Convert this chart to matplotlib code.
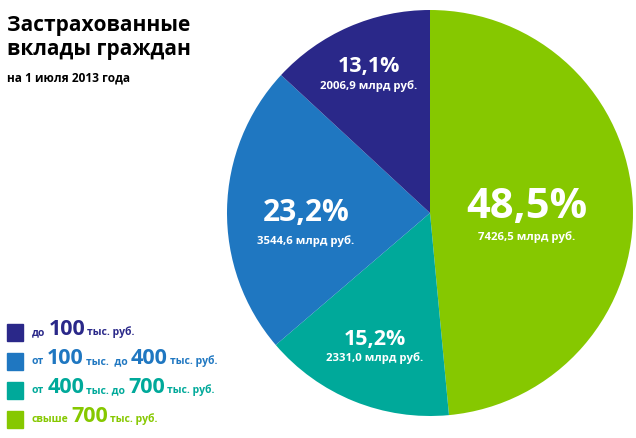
import matplotlib
matplotlib.use("Agg")
import matplotlib.pyplot as plt
from matplotlib.patches import Rectangle

plt.rcParams['font.family'] = ['Open Sans', 'DejaVu Sans']

# ---- data ----
categories = ["свыше 700 тыс. руб.", "от 400 тыс. до 700 тыс. руб.",
              "от 100 тыс. до 400 тыс. руб.", "до 100 тыс. руб."]
values = [7426.5, 2331.0, 3544.6, 2006.9]          # млрд руб.
pct_labels = ["48,5%", "15,2%", "23,2%", "13,1%"]
sum_labels = ["7426,5 млрд руб.", "2331,0 млрд руб.", "3544,6 млрд руб.", "2006,9 млрд руб."]
colors = ["#86c800", "#00a99a", "#1f77c1", "#2a2889"]

title_lines = ["Застрахованные", "вклады граждан"]
subtitle = "на 1 июля 2013 года"

# legend rows (top -> bottom): list of (text, big?) pieces
legend_rows = [
    ([("до", False), ("100", True), ("тыс. руб.", False)], colors[3]),
    ([("от", False), ("100", True), ("тыс.  до", False), ("400", True), ("тыс. руб.", False)], colors[2]),
    ([("от", False), ("400", True), ("тыс. до", False), ("700", True), ("тыс. руб.", False)], colors[1]),
    ([("свыше", False), ("700", True), ("тыс. руб.", False)], colors[0]),
]

W, H = 636, 438
fig = plt.figure(figsize=(W / 100, H / 100), dpi=100)
renderer = fig.canvas.get_renderer()

# ---- pie ----
cx, cy, r = 430, 213, 203
ax = fig.add_axes([(cx - r) / W, (H - cy - r) / H, 2 * r / W, 2 * r / H])
ax.pie(values, colors=colors, startangle=90, counterclock=False,
       wedgeprops=dict(linewidth=0))
ax.set_xlim(-1, 1)
ax.set_ylim(-1, 1)
ax.set_aspect('equal')
ax.axis('off')

# label positions in pie units (relative to centre, radius=1)
label_pos = [(0.478, -0.024), (-0.271, -0.650), (-0.611, -0.040), (-0.303, 0.695)]
sub_y = [-0.133, -0.729, -0.153, 0.611]
pct_sizes = [30, 15.5, 21.5, 15.5]
for (x, y), sy, p, s, fs in zip(label_pos, sub_y, pct_labels, sum_labels, pct_sizes):
    ax.text(x, y, p, color="white", fontsize=fs, fontweight="bold",
            ha="center", va="baseline")
    ax.text(x, sy, s, color="white", fontsize=8.2, fontweight="bold",
            ha="center", va="baseline")

# ---- title ----
fig.text(7 / W, 1 - 31 / H, title_lines[0], fontsize=15, fontweight="bold",
         color="black", va="baseline", ha="left")
fig.text(7 / W, 1 - 55 / H, title_lines[1], fontsize=15, fontweight="bold",
         color="black", va="baseline", ha="left")
fig.text(7 / W, 1 - 82 / H, subtitle, fontsize=8.6, fontweight="bold",
         color="black", va="baseline", ha="left")

# ---- legend ----
baselines = [335, 364, 393, 422]
for (parts, col), base in zip(legend_rows, baselines):
    fig.patches.append(Rectangle((7 / W, 1 - (base + 6) / H), 16 / W, 17 / H,
                                 transform=fig.transFigure, color=col, zorder=3))
    xpix = 32
    for txt, big in parts:
        t = fig.text(xpix / W, 1 - base / H, txt, fontsize=15.5 if big else 7.5,
                     fontweight="bold", color=col, va="baseline", ha="left")
        bb = t.get_window_extent(renderer)
        xpix += bb.width + (2 if big else 3)

fig.savefig("out.png", dpi=100)
